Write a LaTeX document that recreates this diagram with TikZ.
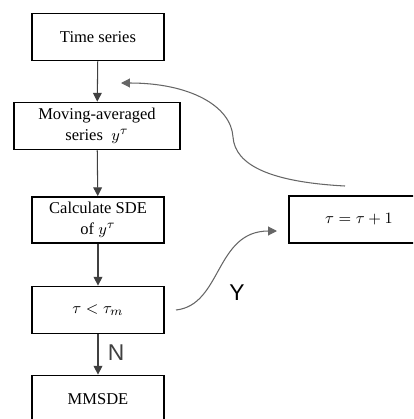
\documentclass[tikz,border=0pt]{standalone}
\usepackage{fontspec}
\setmainfont{Liberation Serif}
\setsansfont{Liberation Sans}
\usetikzlibrary{arrows.meta}
\begin{document}
\begin{tikzpicture}[
        x=0.02cm, y=-0.02cm,
        font=\fontsize{9.4}{12}\selectfont
    ]
    \tikzset{
        mynode/.style = {rectangle, draw=black, line width=1pt, align=center, fill=white,
                         minimum width=2.64cm, minimum height=0.94cm, inner sep=1pt},
        edgea/.style = {-{Triangle[length=5pt,width=5pt]}, line width=0.6pt, black!75},
        edgec/.style = {-{Triangle[length=5pt,width=5pt]}, line width=0.6pt, black!60},
        lbl/.style = {font=\sffamily\fontsize{13}{13}\selectfont},
    }
    \useasboundingbox (0,0) rectangle (413,419);
    \clip (0,0) rectangle (413,419);
    \node[mynode] at (98,37) (ts) {Time series};
    \node[mynode, minimum width=3.32cm] at (97,126) (ma) {Moving-averaged\\series \ $y^\tau$};
    \node[mynode, minimum height=0.92cm] at (98,220) (sde) {Calculate SDE\\of $y^\tau$};
    \node[mynode] at (98,310) (cmp) {$\tau<\tau_m$};
    \node[mynode] at (98,399) (mm) {MMSDE};
    \node[mynode, minimum width=2.8cm] at (359,219.5) (inc) {$\tau=\tau+1$};
    % free ends of the two loop curves
    \coordinate (yout) at (176,310);
    \coordinate (yin) at (277,231);
    \coordinate (bout) at (345,186);
    \coordinate (bin) at (121,83);
    %
    \draw[edgea] (ts) -- (ma);
    \draw[edgea] (ma) -- (sde);
    \draw[edgea] (sde) -- (cmp);
    \draw[edgea] (cmp) -- node[lbl, right, pos=0.45, xshift=2pt] {N} (mm);
    %
    \draw[edgec] (yout) .. controls (222,305) and (215,231) .. (yin);
    \node[lbl] at (237,293) (y) {Y};
    \draw[edgec] (bout) .. controls (270,182) and (235,165) .. (233,137)
                 .. controls (231,106) and (190,83) .. (bin);
\end{tikzpicture}
\end{document}
